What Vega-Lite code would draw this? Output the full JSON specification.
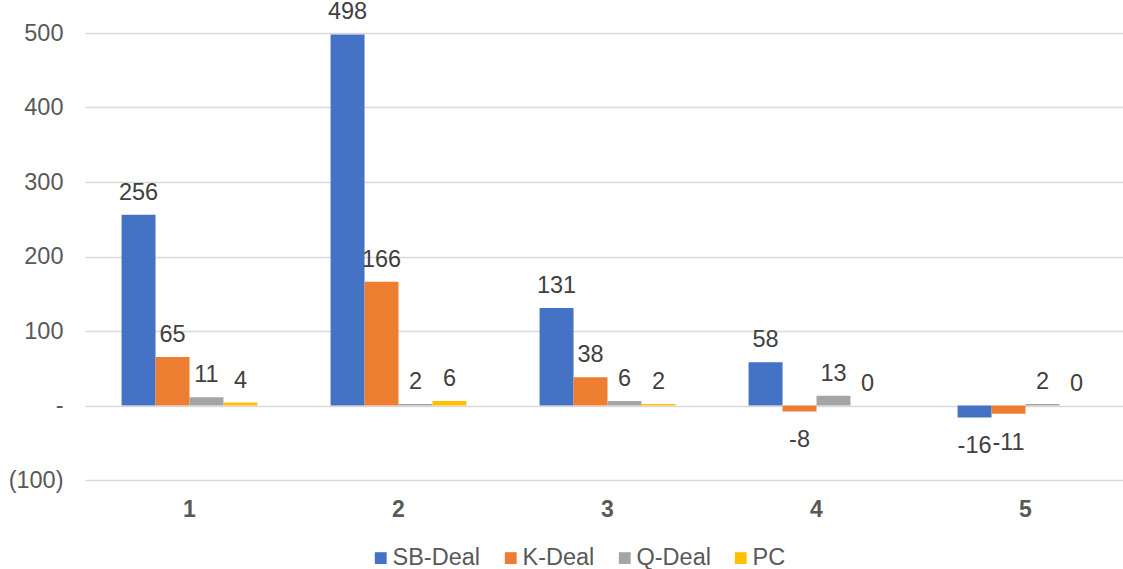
{
  "$schema": "https://vega.github.io/schema/vega-lite/v6.json",
  "width": 1038,
  "height": 447,
  "autosize": {"type": "none"},
  "padding": {"left": 85, "top": 33, "right": 0, "bottom": 89},
  "config": {"view": {"stroke": null}, "font": "Liberation Sans"},
  "data": {
    "values": [
      {"cat": "1", "series": "SB-Deal", "value": 256},
      {"cat": "1", "series": "K-Deal", "value": 65},
      {"cat": "1", "series": "Q-Deal", "value": 11},
      {"cat": "1", "series": "PC", "value": 4},
      {"cat": "2", "series": "SB-Deal", "value": 498},
      {"cat": "2", "series": "K-Deal", "value": 166},
      {"cat": "2", "series": "Q-Deal", "value": 2},
      {"cat": "2", "series": "PC", "value": 6},
      {"cat": "3", "series": "SB-Deal", "value": 131},
      {"cat": "3", "series": "K-Deal", "value": 38},
      {"cat": "3", "series": "Q-Deal", "value": 6},
      {"cat": "3", "series": "PC", "value": 2},
      {"cat": "4", "series": "SB-Deal", "value": 58},
      {"cat": "4", "series": "K-Deal", "value": -8},
      {"cat": "4", "series": "Q-Deal", "value": 13},
      {"cat": "4", "series": "PC", "value": 0},
      {"cat": "5", "series": "SB-Deal", "value": -16},
      {"cat": "5", "series": "K-Deal", "value": -11},
      {"cat": "5", "series": "Q-Deal", "value": 2},
      {"cat": "5", "series": "PC", "value": 0}
    ]
  },
  "encoding": {
    "x": {
      "field": "cat",
      "type": "nominal",
      "scale": {"range": [0, 1045], "paddingInner": 0.35, "paddingOuter": 0.175},
      "axis": {
        "title": null,
        "labelAngle": 0,
        "labelFontSize": 23,
        "labelFontWeight": "bold",
        "labelColor": "#595959",
        "labelPadding": 18,
        "ticks": false,
        "domain": false,
        "grid": false
      }
    },
    "xOffset": {
      "field": "series",
      "type": "nominal",
      "sort": ["SB-Deal", "K-Deal", "Q-Deal", "PC"],
      "scale": {"paddingInner": 0, "paddingOuter": 0}
    },
    "y": {
      "field": "value",
      "type": "quantitative",
      "scale": {"domain": [-100, 500], "nice": false},
      "axis": {
        "title": null,
        "values": [-100, 0, 100, 200, 300, 400, 500],
        "labelExpr": "datum.value < 0 ? '(' + format(-datum.value, 'd') + ')' : (datum.value == 0 ? '-\u00a0' : format(datum.value, 'd') + '\u00a0')",
        "labelFontSize": 23.5,
        "labelColor": "#595959",
        "labelPadding": 22,
        "ticks": false,
        "domain": false,
        "grid": true,
        "gridColor": "#D9D9D9",
        "gridWidth": 1.5
      }
    }
  },
  "layer": [
    {
      "mark": {"type": "bar"},
      "encoding": {
        "color": {
          "field": "series",
          "type": "nominal",
          "sort": ["SB-Deal", "K-Deal", "Q-Deal", "PC"],
          "scale": {
            "domain": ["SB-Deal", "K-Deal", "Q-Deal", "PC"],
            "range": ["#4472C4", "#ED7D31", "#A5A5A5", "#FFC000"]
          },
          "legend": {
            "title": null,
            "orient": "none",
            "direction": "horizontal",
            "legendX": 284,
            "legendY": 513,
            "symbolType": "square",
            "symbolSize": 140,
            "symbolStrokeWidth": 0,
            "symbolOpacity": 1,
            "labelFontSize": 23.5,
            "labelColor": "#595959",
            "labelOffset": 0,
            "columnPadding": 18
          }
        }
      }
    },
    {
      "transform": [{"filter": "datum.value >= 0"}],
      "mark": {"type": "text", "dy": -22, "baseline": "middle", "fontSize": 23.5, "color": "#404040"},
      "encoding": {"text": {"field": "value", "type": "nominal"}}
    },
    {
      "transform": [{"filter": "datum.value < 0"}],
      "mark": {"type": "text", "dy": 29, "baseline": "middle", "fontSize": 23.5, "color": "#404040"},
      "encoding": {"text": {"field": "value", "type": "nominal"}}
    }
  ]
}
